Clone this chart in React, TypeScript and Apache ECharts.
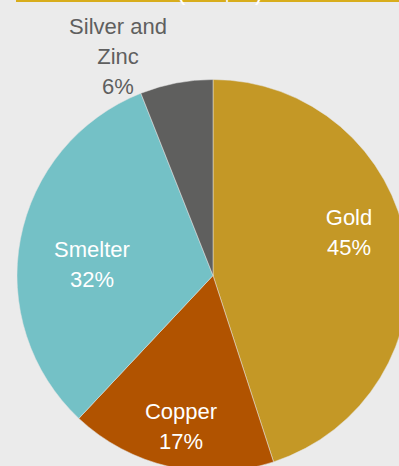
import React, { useEffect, useRef } from "react";
import * as echarts from "echarts";

const categories = ["Gold", "Copper", "Smelter", "Silver and\nZinc"];
const shares = [45, 17, 32, 6];
const colors = ["#c49826", "#b15300", "#74c1c6", "#5f5f5e"];
const labelColors = ["#ffffff", "#ffffff", "#ffffff", "#5f5f5f"];
const labelPos = [
  [349, 232],
  [181, 426],
  [92, 264],
  [118, 56],
];
const titleText = "(US$M)";
const FONT = "'Liberation Sans', Arial, sans-serif";

export default function App() {
  const ref = useRef<HTMLDivElement>(null);
  useEffect(() => {
    const chart = echarts.init(ref.current!, null, { renderer: "svg" });
    chart.setOption({
      animation: false,
      backgroundColor: "#ebebeb",
      graphic: [
        {
          type: "rect",
          shape: { x: 16, y: 0, width: 383, height: 2 },
          style: { fill: "#d8ad1c" },
          z: 10,
        },
        {
          type: "text",
          x: 220,
          y: 3,
          z: 11,
          style: {
            text: titleText,
            fill: "#ffffff",
            font: `25px ${FONT}`,
            align: "center",
            verticalAlign: "bottom",
          },
        },
      ],
      series: [
        {
          type: "pie",
          center: [213, 275.5],
          radius: 196,
          startAngle: 90,
          clockwise: true,
          avoidLabelOverlap: false,
          itemStyle: { borderWidth: 0.5, borderColor: "#e4e4e4" },
          emphasis: { disabled: true },
          label: {
            show: true,
            position: "inside",
            formatter: (p: any) => `${p.name}\n${p.value}%`,
            fontFamily: FONT,
            fontSize: 22,
            lineHeight: 30,
            align: "center",
            verticalAlign: "middle",
          },
          labelLine: { show: false },
          labelLayout: (params: any) => ({
            x: labelPos[params.dataIndex][0],
            y: labelPos[params.dataIndex][1],
          }),
          data: categories.map((name, i) => ({
            name,
            value: shares[i],
            itemStyle: { color: colors[i] },
            label: { color: labelColors[i] },
          })),
        },
      ],
    });
    return () => chart.dispose();
  }, []);
  return (
    <div
      ref={ref}
      style={{ position: "fixed", left: 0, top: 0, width: 399, height: 466 }}
    />
  );
}
